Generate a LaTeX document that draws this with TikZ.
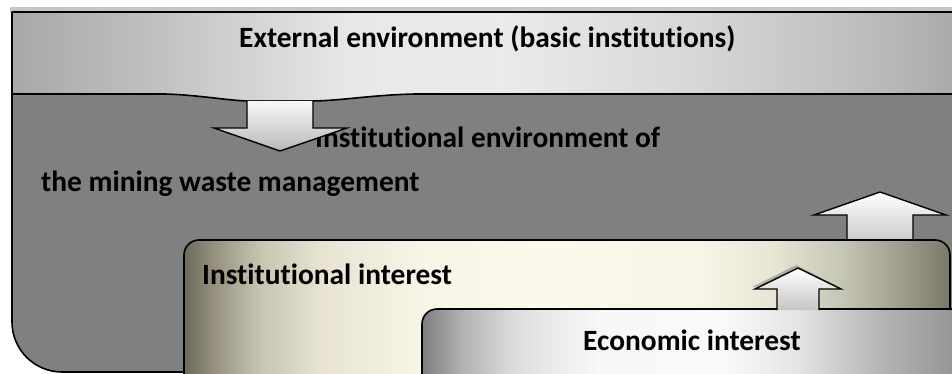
\documentclass[tikz,border=0pt]{standalone}
\usepackage{fontspec}
\setmainfont{Carlito}[Ligatures=NoCommon]

% horizontal colour runs; the span 25bp..75bp is stretched over each filled path
\pgfdeclarehorizontalshading{topband}{100bp}{%
  rgb(0bp)=(0.66,0.66,0.66); rgb(25bp)=(0.66,0.66,0.66);
  rgb(32.3bp)=(0.75,0.75,0.75); rgb(43bp)=(0.91,0.91,0.91);
  rgb(51bp)=(0.92,0.92,0.92); rgb(61.6bp)=(0.84,0.84,0.84);
  rgb(69.6bp)=(0.75,0.75,0.75); rgb(75bp)=(0.67,0.67,0.67);
  rgb(100bp)=(0.67,0.67,0.67)}
\pgfdeclarehorizontalshading{instband}{100bp}{%
  rgb(0bp)=(0.43,0.415,0.35); rgb(25bp)=(0.43,0.415,0.35);
  rgb(27bp)=(0.59,0.57,0.50); rgb(30bp)=(0.78,0.77,0.70);
  rgb(33.9bp)=(0.91,0.89,0.82); rgb(40.4bp)=(0.97,0.96,0.90);
  rgb(48.9bp)=(0.99,0.975,0.925); rgb(58.7bp)=(0.97,0.96,0.90);
  rgb(63.3bp)=(0.91,0.90,0.83); rgb(67.8bp)=(0.78,0.78,0.71);
  rgb(71.7bp)=(0.63,0.62,0.55); rgb(75bp)=(0.48,0.47,0.41);
  rgb(100bp)=(0.48,0.47,0.41)}
\pgfdeclarehorizontalshading{econband}{100bp}{%
  rgb(0bp)=(0.49,0.49,0.49); rgb(25bp)=(0.49,0.49,0.49);
  rgb(28.5bp)=(0.69,0.69,0.69); rgb(33.9bp)=(0.88,0.88,0.88);
  rgb(41.2bp)=(0.97,0.97,0.97); rgb(52.2bp)=(0.98,0.98,0.98);
  rgb(59.5bp)=(0.89,0.89,0.89); rgb(66.8bp)=(0.71,0.71,0.71);
  rgb(73.2bp)=(0.59,0.59,0.59); rgb(75bp)=(0.57,0.57,0.57);
  rgb(100bp)=(0.57,0.57,0.57)}

\definecolor{envgray}{RGB}{128,128,128}

\tikzset{
  frame/.style={draw=black, line width=1.6pt, line join=round},
  label/.style={font=\bfseries\fontsize{29.4}{34}\selectfont, anchor=base west, inner sep=0pt},
  arrowbody/.style={draw=black, line width=1.4pt, line join=miter},
}

\begin{document}
\begin{tikzpicture}[x=1pt, y=-1pt]
\useasboundingbox (0,0) rectangle (952,374);
\clip (0,0) rectangle (952,374);

% institutional environment (dark area with rounded lower-left corner)
\fill[envgray] (12,90) -- (12,322) .. controls (12,349.6) and (34.4,372) .. (62,372)
  -- (970,372) -- (970,90) -- cycle;
\draw[frame] (12,94) -- (12,322) .. controls (12,349.6) and (34.4,372) .. (62,372) -- (200,372);

% soft shadow above the external band
\fill[gray!45] (10,7) rectangle (952,13);

% external environment band with its tab
\path[shading=topband] (12,12) -- (952,12) -- (952,94) -- (415,94)
  .. controls (370,95) and (340,101) .. (310,101) -- (250,101)
  .. controls (230,101) and (200,95) .. (165,94) -- (12,94) -- cycle;
\draw[frame] (952,12) -- (12,12) -- (12,94) -- (165,94)
  .. controls (200,95) and (230,101) .. (250,101) -- (310,101)
  .. controls (340,101) and (370,95) .. (415,94) -- (952,94);

\node[label] (ext) at (239,48) {External environment (basic institutions)};

\node[label] (envA) at (315,148) {Institutional environment of};
\node[label] (envB) at (41,191) {the mining waste management};

% arrow from the external band down into the institutional environment
\path[top color=gray!6, bottom color=gray!55] (247,101) -- (247,128) -- (214,128) -- (280,151) -- (347,128) -- (313,128) -- (313,101) -- cycle;
\draw[arrowbody] (247,101) -- (247,128) -- (214,128) -- (280,151) -- (347,128) -- (313,128) -- (313,101);

% arrow from institutional interest up to the environment
\path[top color=white, bottom color=gray!40] (847,240) -- (847,215) -- (814,215) -- (880,192) -- (946,215) -- (913,215) -- (913,240) -- cycle;
\draw[arrowbody] (847,240) -- (847,215) -- (814,215) -- (880,192) -- (946,215) -- (913,215) -- (913,240);

% institutional interest box
\path[shading=instband, rounded corners=15pt] (184,240) rectangle (950,390);
\draw[frame, rounded corners=15pt] (184,240) rectangle (950,390);
\node[label] (inst) at (202,284) {Institutional interest};

% economic interest box
\path[shading=econband, rounded corners=15pt] (422,309) rectangle (970,400);
\draw[frame, rounded corners=15pt] (422,400) -- (422,309) -- (970,309);

% arrow from economic interest up to institutional interest
\fill[gray!60!black, opacity=0.35] (777,309) -- (777,287) -- (752,287) -- (796,265) -- (839,287) -- (819,287) -- (819,309) -- cycle;
\path[top color=white, bottom color=gray!45] (777,310) -- (777,289) -- (755,289) -- (798,268) -- (841,289) -- (819,289) -- (819,310) -- cycle;
\draw[arrowbody] (777,310) -- (777,289) -- (755,289) -- (798,268) -- (841,289) -- (819,289) -- (819,310);

\node[label] (econ) at (583,350) {Economic interest};
\end{tikzpicture}
\end{document}
